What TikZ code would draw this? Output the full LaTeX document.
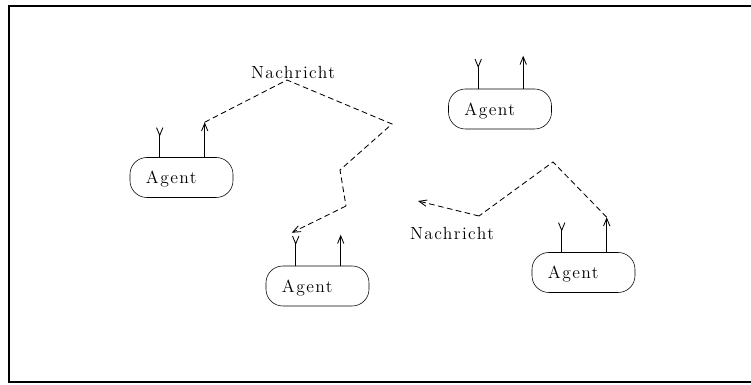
\documentclass[tikz,border=0pt]{standalone}
\usepackage{fontspec}
\setmainfont{Latin Modern Roman}
\newfontfamily\espaciada[LetterSpace=8]{Latin Modern Roman}
\usetikzlibrary{calc,arrows.meta}
\tikzset{
  letra/.style={font=\espaciada\fontsize{12.5pt}{15pt}\selectfont},
  agente/.style={draw, rounded corners=12, minimum height=1cm, inner ysep=0pt, inner xsep=0.4cm,
    text width=1.775cm, align=left, text height=12pt, text depth=3pt, letra},
  mensaje/.style={dash pattern=on 4pt off 2.5pt, line width=0.6pt},
  punta/.style={-{Straight Barb[length=5.5pt,width=4.5pt]}},
  entrada/.style={-{Straight Barb[length=5.5pt,width=4.5pt,reversed]}, line width=0.6pt},
  salida/.style={punta, line width=0.6pt}
}
\begin{document}
\begin{tikzpicture}[x=0.025cm, y=-0.025cm]
    \useasboundingbox (0,0) rectangle (751,385);
    % Dibuja el marco
    \draw[line width=1.6pt] (751,6) -- (9,6) -- (9,382) -- (751,382);

    % Dibuja los agentes
    \node[agente] (a1) at (181.5,177.5) {Agent};
    \node[agente] (a2) at (500,109) {Agent};
    \node[agente] (a3) at (317.5,286) {Agent};
    \node[agente] (a4) at (583.5,272.5) {Agent};

    % Dibuja las entradas y salidas de cada agente
    \draw[entrada] ($(a1.north west)+(30,0)$) -- ++(0,-30) coordinate (e1);
    \draw[salida] ($(a1.north west)+(75,0)$) -- ++(0,-35) coordinate (s1);
    \draw[entrada] ($(a2.north west)+(30,0)$) -- ++(0,-30) coordinate (e2);
    \draw[salida] ($(a2.north west)+(75,0)$) -- ++(0,-33) coordinate (s2);
    \draw[entrada] ($(a3.north west)+(30,0)$) -- ++(0,-30) coordinate (e3);
    \draw[salida] ($(a3.north west)+(75,0)$) -- ++(0,-31) coordinate (s3);
    \draw[entrada] ($(a4.north west)+(30,0)$) -- ++(0,-30) coordinate (e4);
    \draw[salida] ($(a4.north west)+(75,0)$) -- ++(0,-35) coordinate (s4);

    % Dibuja los mensajes
    \coordinate (p1) at (287,80);
    \coordinate (p2) at (553,162);
    \coordinate (f1) at ($(e3)+(-4,-3)$);
    \coordinate (f2) at (418,201);
    \draw[mensaje] (s1) -- (p1) -- (392,124) -- (340,170) -- (346,206) edge[punta] (f1);
    \draw[mensaje] (s4) -- (p2) -- (479,216) edge[punta] (f2);
    \node[letra] (n1) at (293,72) {Nachricht};
    \node[letra] (n2) at (452,233) {Nachricht};
\end{tikzpicture}
\end{document}
